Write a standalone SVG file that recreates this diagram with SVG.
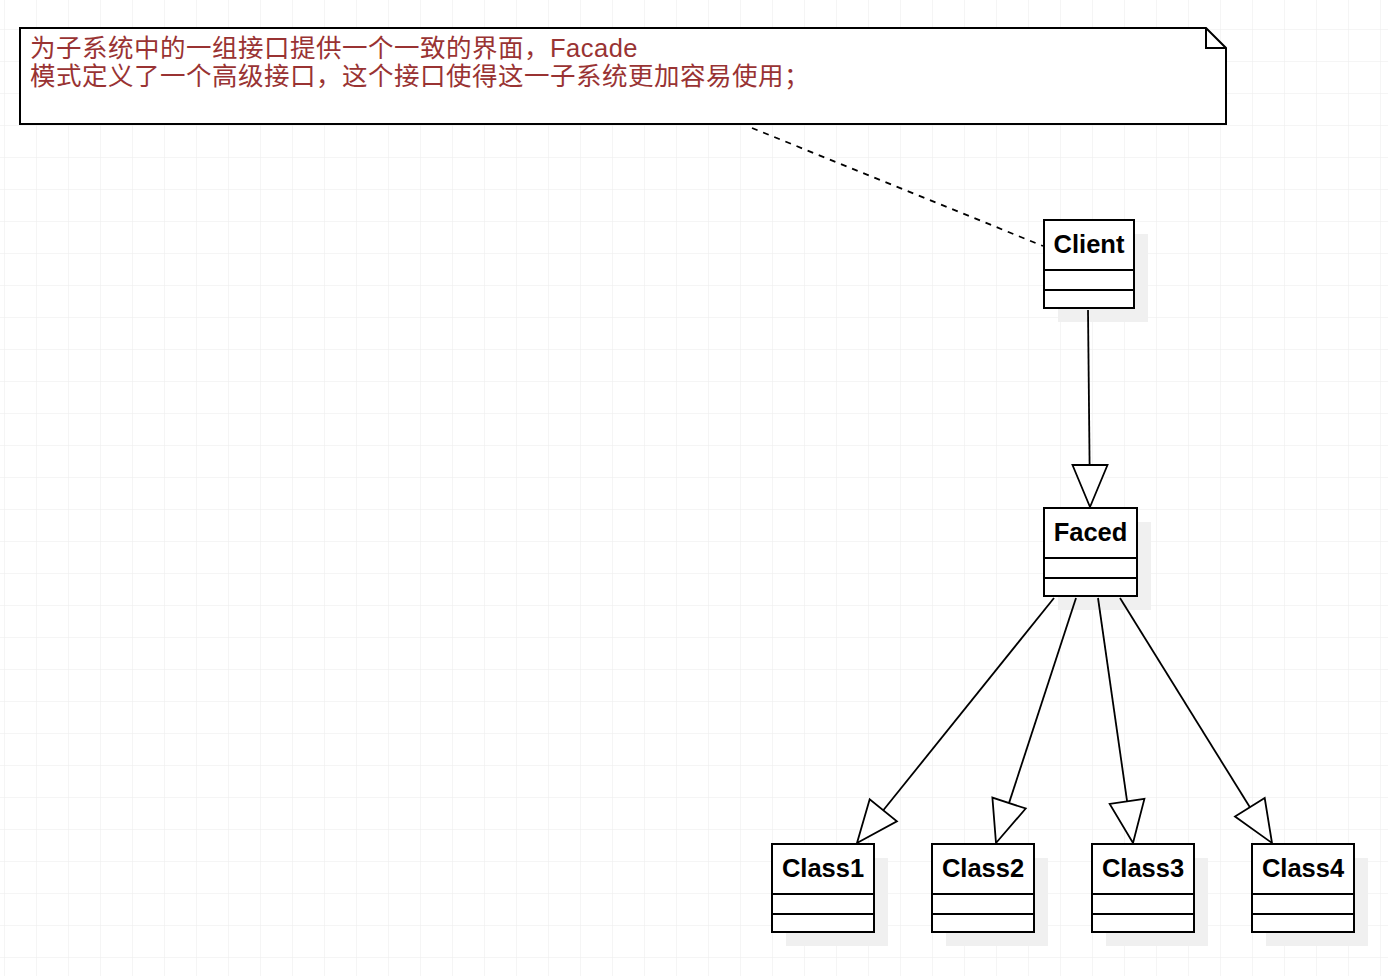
<svg xmlns="http://www.w3.org/2000/svg" width="1388" height="976" viewBox="0 0 1388 976">
<defs>
<pattern id="grid" x="4" y="29" width="32" height="32" patternUnits="userSpaceOnUse">
<path d="M0 0H32M0 0V32" fill="none" stroke="#ececec" stroke-width="1"/>
</pattern>
<style>
.box{fill:#ffffff;stroke:#000000;stroke-width:2}
.shadow{fill:#f0f0f0;stroke:none}
.div{stroke:#000000;stroke-width:2;fill:none}
.title{font-family:"Liberation Sans",Arial,sans-serif;font-weight:bold;font-size:25.5px;fill:#000000;text-anchor:middle}
.note{font-family:"Liberation Sans","Noto Sans CJK SC",sans-serif;font-size:25.5px;letter-spacing:0.5px;fill:#993333}
.edge{stroke:#000000;stroke-width:1.8;fill:none}
.head{fill:#ffffff;stroke:#000000;stroke-width:1.8;stroke-linejoin:miter}
</style>
</defs>
<rect width="1388" height="976" fill="#ffffff"/>
<rect width="1388" height="976" fill="url(#grid)"/>

<g id="note">
<path d="M20 28H1206L1226 48V124H20Z" fill="#ffffff" stroke="#000000" stroke-width="2"/>
<path d="M1206 28V48H1226" fill="none" stroke="#000000" stroke-width="2"/>
<text class="note" x="30" y="57">为子系统中的一组接口提供一个一致的界面，Facade</text>
<text class="note" x="30" y="85">模式定义了一个高级接口，这个接口使得这一子系统更加容易使用；</text>
</g>

<g id="client">
<rect class="shadow" x="1058" y="234" width="90" height="88"/>
<rect class="box" x="1044" y="220" width="90" height="88"/>
<line class="div" x1="1044" y1="270" x2="1134" y2="270"/>
<line class="div" x1="1044" y1="290" x2="1134" y2="290"/>
<text class="title" x="1089" y="253">Client</text>
</g>

<g id="faced">
<rect class="shadow" x="1058" y="522" width="93" height="88"/>
<rect class="box" x="1044" y="508" width="93" height="88"/>
<line class="div" x1="1044" y1="558" x2="1137" y2="558"/>
<line class="div" x1="1044" y1="578" x2="1137" y2="578"/>
<text class="title" x="1090.5" y="541">Faced</text>
</g>

<g id="class1">
<rect class="shadow" x="786" y="858" width="102" height="88"/>
<rect class="box" x="772" y="844" width="102" height="88"/>
<line class="div" x1="772" y1="894" x2="874" y2="894"/>
<line class="div" x1="772" y1="914" x2="874" y2="914"/>
<text class="title" x="823" y="877">Class1</text>
</g>

<g id="class2">
<rect class="shadow" x="946" y="858" width="102" height="88"/>
<rect class="box" x="932" y="844" width="102" height="88"/>
<line class="div" x1="932" y1="894" x2="1034" y2="894"/>
<line class="div" x1="932" y1="914" x2="1034" y2="914"/>
<text class="title" x="983" y="877">Class2</text>
</g>

<g id="class3">
<rect class="shadow" x="1106" y="858" width="102" height="88"/>
<rect class="box" x="1092" y="844" width="102" height="88"/>
<line class="div" x1="1092" y1="894" x2="1194" y2="894"/>
<line class="div" x1="1092" y1="914" x2="1194" y2="914"/>
<text class="title" x="1143" y="877">Class3</text>
</g>

<g id="class4">
<rect class="shadow" x="1266" y="858" width="102" height="88"/>
<rect class="box" x="1252" y="844" width="102" height="88"/>
<line class="div" x1="1252" y1="894" x2="1354" y2="894"/>
<line class="div" x1="1252" y1="914" x2="1354" y2="914"/>
<text class="title" x="1303" y="877">Class4</text>
</g>

<g id="connectors">
<line x1="752" y1="128" x2="1043" y2="246" stroke="#000000" stroke-width="1.8" stroke-dasharray="6 6"/>
<line class="edge" x1="1088" y1="310" x2="1089.6" y2="465"/>
<polygon class="head" points="1090,507 1072.5,465 1107.5,465"/>
<line class="edge" x1="1054" y1="598" x2="883.3" y2="810.3"/>
<polygon class="head" points="857,843 896.9,821.3 869.7,799.3"/>
<line class="edge" x1="1076" y1="598" x2="1009" y2="803.1"/>
<polygon class="head" points="996,843 1025.7,808.5 992.4,797.6"/>
<line class="edge" x1="1098" y1="598" x2="1127.1" y2="801.4"/>
<polygon class="head" points="1133,843 1144.4,798.9 1109.7,803.9"/>
<line class="edge" x1="1120" y1="598" x2="1249.9" y2="807.3"/>
<polygon class="head" points="1272,843 1264.7,798.1 1235,816.5"/>
</g>
</svg>
